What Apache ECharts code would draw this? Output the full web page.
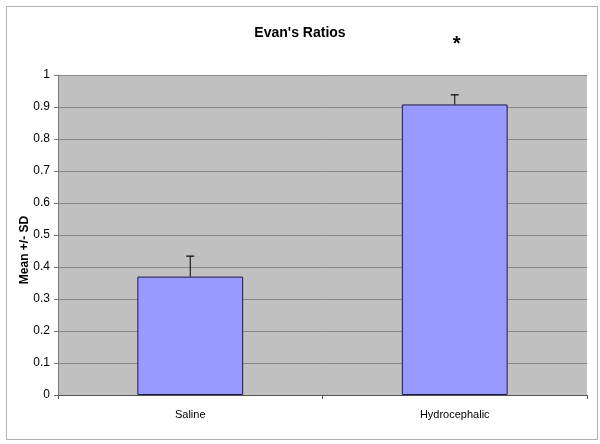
<!DOCTYPE html>
<html>
<head>
<meta charset="utf-8">
<script src="https://cdn.jsdelivr.net/npm/echarts@6/dist/echarts.min.js"></script>
<style>
	html, body { margin: 0; padding: 0; background: #fff; }
	#chart { width: 600px; height: 444px; }
</style>
</head>
<body>
<div id="chart"></div>
<script>
var categories = ['Saline', 'Hydrocephalic'];
var means = [0.37, 0.908];
var sds = [0.064, 0.03];
var marks = ['', '*'];
var yTicks = [0, 0.1, 0.2, 0.3, 0.4, 0.5, 0.6, 0.7, 0.8, 0.9, 1];

var myChart = echarts.init(document.getElementById('chart'));

// error bar: vertical line from the bar top up by one SD with a small cap
function renderError(params, api) {
	var i = api.value(0);
	var top = api.coord([i, api.value(1) + api.value(2)]);
	var base = api.coord([i, api.value(1)]);
	var children = [
		{ type: 'line', shape: { x1: top[0], y1: top[1], x2: base[0], y2: base[1] },
		  style: { stroke: '#000', lineWidth: 1 } },
		{ type: 'line', shape: { x1: top[0] - 4, y1: top[1], x2: top[0] + 4, y2: top[1] },
		  style: { stroke: '#000', lineWidth: 1.2 } }
	];
	var mark = marks[i];
	if (mark) {
		var p = api.coord([i, 1]);
		children.push({ type: 'text', x: p[0] + 2, y: p[1] - 31,
			style: { text: mark, fontSize: 20, fontWeight: 'bold', fontFamily: 'Liberation Sans',
				fill: '#000', align: 'center', verticalAlign: 'middle' } });
	}
	return { type: 'group', children: children };
}

var option = {
	animation: false,
	backgroundColor: '#fff',
	textStyle: { fontFamily: 'Liberation Sans' },
	title: {
		text: "Evan's Ratios",
		left: 'center',
		top: 21,
		textStyle: { fontSize: 14, fontWeight: 'bold', color: '#000', fontFamily: 'Liberation Sans' }
	},
	graphic: [{
		type: 'rect', left: 4, top: 4, silent: true,
		shape: { width: 591, height: 433 },
		style: { fill: 'none', stroke: '#b0b0b0', lineWidth: 1 }
	}],
	grid: { left: 58, right: 13, top: 75, bottom: 49, show: true, backgroundColor: '#c0c0c0', borderWidth: 0 },
	xAxis: {
		type: 'category',
		data: categories,
		axisLine: { lineStyle: { color: '#555' } },
		axisTick: { show: true, length: 4, lineStyle: { color: '#555' } },
		axisLabel: { color: '#000', fontSize: 11, margin: 14 }
	},
	yAxis: {
		type: 'value',
		min: 0,
		max: 1,
		interval: 0.1,
		name: 'Mean +/- SD',
		nameLocation: 'middle',
		nameGap: 27,
		nameMoveOverlap: false,
		nameTextStyle: { fontSize: 12, fontWeight: 'bold', color: '#000', padding: [0, 30, 0, 0] },
		axisLine: { show: true, lineStyle: { color: '#777' } },
		axisTick: { show: true, length: 4, lineStyle: { color: '#777' } },
		axisLabel: {
			color: '#000', fontSize: 12, margin: 8,
			formatter: function(v) {
				for (var n = 0; n < yTicks.length; n++) {
					if (Math.abs(yTicks[n] - v) < 1e-9) return String(yTicks[n]);
				}
				return '';
			}
		},
		splitLine: { show: true, lineStyle: { color: '#8a8a8a', width: 1 } }
	},
	series: [{
		type: 'bar',
		data: means,
		barCategoryGap: '60%',
		itemStyle: { color: '#9999ff', borderColor: '#1a1a4a', borderWidth: 1 }
	}, {
		type: 'custom',
		renderItem: renderError,
		clip: false,
		z: 5,
		data: categories.map(function(c, i) { return [i, means[i], sds[i]]; })
	}]
};
myChart.setOption(option);
</script>
</body>
</html>
